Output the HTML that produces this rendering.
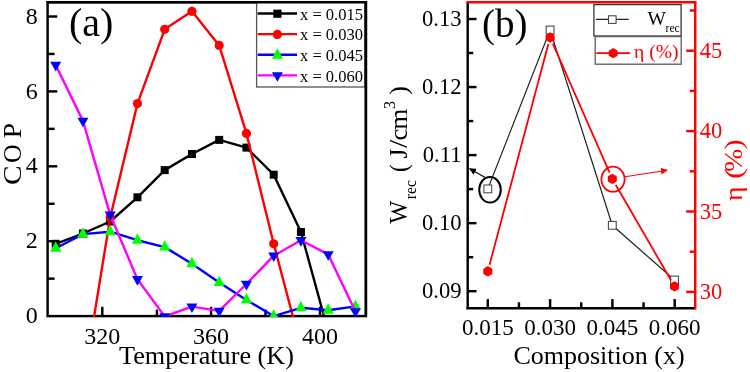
<!DOCTYPE html>
<html><head><meta charset="utf-8"><style>
html,body{margin:0;padding:0;background:#fff;}
svg{display:block;will-change:transform;font-family:"Liberation Serif", serif;}
</style></head><body>
<svg width="750" height="372" viewBox="0 0 750 372">
<rect width="750" height="372" fill="#fff"/>
<defs><clipPath id="ca"><rect x="47.6" y="2.2" width="318.29999999999995" height="314.90000000000003"/></clipPath>
<clipPath id="cb"><rect x="467.7" y="2.2" width="227.50000000000006" height="306.1"/></clipPath>
<marker id="ah" viewBox="0 0 10 10" refX="9" refY="5" markerWidth="7" markerHeight="7" orient="auto-start-reverse" markerUnits="userSpaceOnUse"><path d="M0,0 L10,5 L0,10 z" fill="#000"/></marker>
<marker id="ahr" viewBox="0 0 10 10" refX="9" refY="5" markerWidth="7" markerHeight="7" orient="auto-start-reverse" markerUnits="userSpaceOnUse"><path d="M0,0 L10,5 L0,10 z" fill="#f00"/></marker>
</defs>
<rect x="47.6" y="2.2" width="318.29999999999995" height="313.90000000000003" fill="none" stroke="#000" stroke-width="2.45"/>
<line x1="47.6" y1="278.65" x2="54.6" y2="278.65" stroke="#000" stroke-width="2.45"/>
<line x1="47.6" y1="241.20" x2="57.3" y2="241.20" stroke="#000" stroke-width="2.45"/>
<text x="37.8" y="248.3" font-size="24" text-anchor="end">2</text>
<line x1="47.6" y1="203.75" x2="54.6" y2="203.75" stroke="#000" stroke-width="2.45"/>
<line x1="47.6" y1="166.30" x2="57.3" y2="166.30" stroke="#000" stroke-width="2.45"/>
<text x="37.8" y="173.4" font-size="24" text-anchor="end">4</text>
<line x1="47.6" y1="128.85" x2="54.6" y2="128.85" stroke="#000" stroke-width="2.45"/>
<line x1="47.6" y1="91.40" x2="57.3" y2="91.40" stroke="#000" stroke-width="2.45"/>
<text x="37.8" y="98.5" font-size="24" text-anchor="end">6</text>
<line x1="47.6" y1="53.95" x2="54.6" y2="53.95" stroke="#000" stroke-width="2.45"/>
<line x1="47.6" y1="16.50" x2="57.3" y2="16.50" stroke="#000" stroke-width="2.45"/>
<text x="37.8" y="23.6" font-size="24" text-anchor="end">8</text>
<text x="37.8" y="323.2" font-size="24" text-anchor="end">0</text>
<line x1="102.3" y1="316.1" x2="102.3" y2="306.8" stroke="#000" stroke-width="2.45"/>
<text x="102.3" y="343.6" font-size="24" text-anchor="middle">320</text>
<line x1="156.9" y1="316.1" x2="156.9" y2="309.6" stroke="#000" stroke-width="2.45"/>
<line x1="211.1" y1="316.1" x2="211.1" y2="306.8" stroke="#000" stroke-width="2.45"/>
<text x="211.1" y="343.6" font-size="24" text-anchor="middle">360</text>
<line x1="265.5" y1="316.1" x2="265.5" y2="309.6" stroke="#000" stroke-width="2.45"/>
<line x1="320.0" y1="316.1" x2="320.0" y2="306.8" stroke="#000" stroke-width="2.45"/>
<text x="320.0" y="343.6" font-size="24" text-anchor="middle">400</text>
<g clip-path="url(#ca)">
<polyline points="55.70,243.80 82.95,233.50 110.20,221.50 137.45,197.30 164.70,170.10 191.95,154.00 219.20,139.90 246.45,147.60 273.70,174.70 300.95,232.00 328.20,331.50 355.45,380.00" fill="none" stroke="#000" stroke-width="2.4" stroke-linejoin="round"/>
<rect x="51.70" y="239.80" width="8" height="8" fill="#000"/>
<rect x="78.95" y="229.50" width="8" height="8" fill="#000"/>
<rect x="106.20" y="217.50" width="8" height="8" fill="#000"/>
<rect x="133.45" y="193.30" width="8" height="8" fill="#000"/>
<rect x="160.70" y="166.10" width="8" height="8" fill="#000"/>
<rect x="187.95" y="150.00" width="8" height="8" fill="#000"/>
<rect x="215.20" y="135.90" width="8" height="8" fill="#000"/>
<rect x="242.45" y="143.60" width="8" height="8" fill="#000"/>
<rect x="269.70" y="170.70" width="8" height="8" fill="#000"/>
<rect x="296.95" y="228.00" width="8" height="8" fill="#000"/>
<rect x="324.20" y="327.50" width="8" height="8" fill="#000"/>
<rect x="351.45" y="376.00" width="8" height="8" fill="#000"/>
<polyline points="55.70,460.00 82.95,385.00 110.20,217.50 137.45,103.60 164.70,29.30 191.95,11.30 219.20,45.40 246.45,133.40 273.70,243.80 300.95,347.00 328.20,420.00 355.45,420.00" fill="none" stroke="#f00" stroke-width="2.4" stroke-linejoin="round"/>
<circle cx="55.70" cy="460.00" r="4.6" fill="#f00"/>
<circle cx="82.95" cy="385.00" r="4.6" fill="#f00"/>
<circle cx="110.20" cy="217.50" r="4.6" fill="#f00"/>
<circle cx="137.45" cy="103.60" r="4.6" fill="#f00"/>
<circle cx="164.70" cy="29.30" r="4.6" fill="#f00"/>
<circle cx="191.95" cy="11.30" r="4.6" fill="#f00"/>
<circle cx="219.20" cy="45.40" r="4.6" fill="#f00"/>
<circle cx="246.45" cy="133.40" r="4.6" fill="#f00"/>
<circle cx="273.70" cy="243.80" r="4.6" fill="#f00"/>
<circle cx="300.95" cy="347.00" r="4.6" fill="#f00"/>
<circle cx="328.20" cy="420.00" r="4.6" fill="#f00"/>
<circle cx="355.45" cy="420.00" r="4.6" fill="#f00"/>
<polyline points="55.70,248.22 82.95,234.12 110.20,231.72 137.45,240.22 164.70,247.12 191.95,263.72 219.20,282.52 246.45,299.92 273.70,316.12 300.95,307.82 328.20,310.22 355.45,306.42" fill="none" stroke="#00f" stroke-width="2.4" stroke-linejoin="round"/>
<polygon points="50.10,251.65 61.30,251.65 55.70,241.35" fill="#0f0"/>
<polygon points="77.35,237.55 88.55,237.55 82.95,227.25" fill="#0f0"/>
<polygon points="104.60,235.15 115.80,235.15 110.20,224.85" fill="#0f0"/>
<polygon points="131.85,243.65 143.05,243.65 137.45,233.35" fill="#0f0"/>
<polygon points="159.10,250.55 170.30,250.55 164.70,240.25" fill="#0f0"/>
<polygon points="186.35,267.15 197.55,267.15 191.95,256.85" fill="#0f0"/>
<polygon points="213.60,285.95 224.80,285.95 219.20,275.65" fill="#0f0"/>
<polygon points="240.85,303.35 252.05,303.35 246.45,293.05" fill="#0f0"/>
<polygon points="268.10,319.55 279.30,319.55 273.70,309.25" fill="#0f0"/>
<polygon points="295.35,311.25 306.55,311.25 300.95,300.95" fill="#0f0"/>
<polygon points="322.60,313.65 333.80,313.65 328.20,303.35" fill="#0f0"/>
<polygon points="349.85,309.85 361.05,309.85 355.45,299.55" fill="#0f0"/>
<polyline points="55.70,65.00 82.95,120.90 110.20,214.80 137.45,279.30 164.70,316.40 191.95,306.60 219.20,310.90 246.45,284.00 273.70,255.70 300.95,240.30 328.20,254.40 355.45,311.40" fill="none" stroke="#f0f" stroke-width="2.4" stroke-linejoin="round"/>
<polygon points="50.20,61.80 61.20,61.80 55.70,71.40" fill="#00f"/>
<polygon points="77.45,117.70 88.45,117.70 82.95,127.30" fill="#00f"/>
<polygon points="104.70,211.60 115.70,211.60 110.20,221.20" fill="#00f"/>
<polygon points="131.95,276.10 142.95,276.10 137.45,285.70" fill="#00f"/>
<polygon points="159.20,313.20 170.20,313.20 164.70,322.80" fill="#00f"/>
<polygon points="186.45,303.40 197.45,303.40 191.95,313.00" fill="#00f"/>
<polygon points="213.70,307.70 224.70,307.70 219.20,317.30" fill="#00f"/>
<polygon points="240.95,280.80 251.95,280.80 246.45,290.40" fill="#00f"/>
<polygon points="268.20,252.50 279.20,252.50 273.70,262.10" fill="#00f"/>
<polygon points="295.45,237.10 306.45,237.10 300.95,246.70" fill="#00f"/>
<polygon points="322.70,251.20 333.70,251.20 328.20,260.80" fill="#00f"/>
<polygon points="349.95,308.20 360.95,308.20 355.45,317.80" fill="#00f"/>
</g>
<rect x="256.6" y="2.2" width="107.99999999999994" height="84.8" fill="#fff" stroke="#555" stroke-width="1.3"/>
<line x1="257.7" y1="13.5" x2="297.1" y2="13.5" stroke="#000" stroke-width="2.4"/>
<rect x="273.30" y="9.60" width="8.2" height="8.2" fill="#000"/>
<text x="300.0" y="19.6" font-size="16.5">x = 0.015</text>
<line x1="257.7" y1="34.1" x2="297.1" y2="34.1" stroke="#f00" stroke-width="2.4"/>
<circle cx="277.40" cy="34.40" r="4.6" fill="#f00"/>
<text x="300.0" y="40.2" font-size="16.5">x = 0.030</text>
<line x1="257.7" y1="54.7" x2="297.1" y2="54.7" stroke="#00f" stroke-width="2.4"/>
<polygon points="271.80,58.65 283.00,58.65 277.40,48.35" fill="#0f0"/>
<text x="300.0" y="60.8" font-size="16.5">x = 0.045</text>
<line x1="257.7" y1="75.4" x2="297.1" y2="75.4" stroke="#f0f" stroke-width="2.4"/>
<polygon points="271.90,72.20 282.90,72.20 277.40,81.80" fill="#00f"/>
<text x="300.0" y="81.5" font-size="16.5">x = 0.060</text>
<line x1="46.4" y1="2.2" x2="367.09999999999997" y2="2.2" stroke="#000" stroke-width="2.45"/>
<line x1="365.9" y1="2.2" x2="365.9" y2="316.1" stroke="#000" stroke-width="2.45"/>
<text x="206.5" y="364" font-size="26.2" text-anchor="middle">Temperature (K)</text>
<text transform="translate(20.5,184.93) rotate(-90) scale(1.127,1)" font-size="26" fill="#000">C</text>
<text transform="translate(20.5,162.99) rotate(-90) scale(0.994,1)" font-size="26" fill="#000">O</text>
<text transform="translate(20.5,138.16) rotate(-90) scale(1.062,1)" font-size="26" fill="#000">P</text>
<text x="69" y="36.3" font-size="40">(a)</text>
<g clip-path="url(#cb)">
<polyline points="487.80,188.90 550.10,30.00 612.30,225.30 674.50,280.00" fill="none" stroke="#222" stroke-width="1.2"/>
<rect x="483.90" y="185.00" width="7.8" height="7.8" fill="#fff" stroke="#444" stroke-width="1.05"/>
<rect x="546.20" y="26.10" width="7.8" height="7.8" fill="#fff" stroke="#444" stroke-width="1.05"/>
<rect x="608.40" y="221.40" width="7.8" height="7.8" fill="#fff" stroke="#444" stroke-width="1.05"/>
<rect x="670.60" y="276.10" width="7.8" height="7.8" fill="#fff" stroke="#444" stroke-width="1.05"/>
<line x1="489.55" y1="264.73" x2="548.35" y2="44.07" stroke="#f00" stroke-width="1.8"/>
<line x1="552.84" y1="43.72" x2="609.56" y2="172.68" stroke="#f00" stroke-width="1.8"/>
<line x1="615.71" y1="184.79" x2="671.09" y2="280.51" stroke="#f00" stroke-width="1.8"/>
<polygon points="487.80,266.10 492.30,268.70 492.30,273.90 487.80,276.50 483.30,273.90 483.30,268.70" fill="#f00"/>
<polygon points="550.10,32.30 554.60,34.90 554.60,40.10 550.10,42.70 545.60,40.10 545.60,34.90" fill="#f00"/>
<polygon points="612.30,173.70 616.80,176.30 616.80,181.50 612.30,184.10 607.80,181.50 607.80,176.30" fill="#f00"/>
<polygon points="674.50,281.20 679.00,283.80 679.00,289.00 674.50,291.60 670.00,289.00 670.00,283.80" fill="#f00"/>
</g>
<ellipse cx="490" cy="189.8" rx="10.8" ry="12.8" fill="none" stroke="#000" stroke-width="2"/>
<line x1="485.2" y1="177.5" x2="469.7" y2="168.7" stroke="#000" stroke-width="1.05" marker-end="url(#ah)"/>
<ellipse cx="613" cy="179.2" rx="11.6" ry="12.5" fill="none" stroke="#f00" stroke-width="1.8"/>
<line x1="625" y1="176.7" x2="667.2" y2="170.2" stroke="#f00" stroke-width="1.05" marker-end="url(#ahr)"/>
<rect x="593.9" y="4.6" width="87.2" height="31.4" fill="#fff" stroke="#333" stroke-width="1.3"/>
<line x1="595.9" y1="19.4" x2="628.7" y2="19.4" stroke="#222" stroke-width="1.2"/>
<rect x="608.5" y="15.8" width="7.6" height="7.6" fill="#fff" stroke="#444" stroke-width="1.05"/>
<text x="647.5" y="24.7" font-size="19.5">W</text>
<text x="665.6" y="31.8" font-size="11.6">rec</text>
<rect x="595.2" y="36.6" width="86" height="27.6" fill="#fff" stroke="#666" stroke-width="1.4"/>
<line x1="596.3" y1="53.1" x2="630.2" y2="53.1" stroke="#f00" stroke-width="1.8"/>
<polygon points="613.20,48.10 617.62,50.65 617.62,55.75 613.20,58.30 608.78,55.75 608.78,50.65" fill="#f00"/>
<text x="634.1" y="58.2" font-size="19.6" fill="#f00">η (%)</text>
<line x1="467.7" y1="2.2" x2="467.7" y2="308.3" stroke="#000" stroke-width="2.45"/>
<line x1="466.4" y1="308.3" x2="695.2" y2="308.3" stroke="#000" stroke-width="2.45"/>
<line x1="466.4" y1="2.2" x2="696.5" y2="2.2" stroke="#f00" stroke-width="2.45"/>
<line x1="695.2" y1="2.2" x2="695.2" y2="309.6" stroke="#f00" stroke-width="2.45"/>
<line x1="467.7" y1="291.20" x2="476.5" y2="291.20" stroke="#000" stroke-width="2.45"/>
<text x="461.5" y="298.3" font-size="22.6" text-anchor="end">0.09</text>
<line x1="467.7" y1="257.18" x2="473.2" y2="257.18" stroke="#000" stroke-width="2.45"/>
<line x1="467.7" y1="223.15" x2="476.5" y2="223.15" stroke="#000" stroke-width="2.45"/>
<text x="461.5" y="230.3" font-size="22.6" text-anchor="end">0.10</text>
<line x1="467.7" y1="189.13" x2="473.2" y2="189.13" stroke="#000" stroke-width="2.45"/>
<line x1="467.7" y1="155.10" x2="476.5" y2="155.10" stroke="#000" stroke-width="2.45"/>
<text x="461.5" y="162.2" font-size="22.6" text-anchor="end">0.11</text>
<line x1="467.7" y1="121.08" x2="473.2" y2="121.08" stroke="#000" stroke-width="2.45"/>
<line x1="467.7" y1="87.05" x2="476.5" y2="87.05" stroke="#000" stroke-width="2.45"/>
<text x="461.5" y="94.2" font-size="22.6" text-anchor="end">0.12</text>
<line x1="467.7" y1="53.03" x2="473.2" y2="53.03" stroke="#000" stroke-width="2.45"/>
<line x1="467.7" y1="19.00" x2="476.5" y2="19.00" stroke="#000" stroke-width="2.45"/>
<text x="461.5" y="26.1" font-size="22.6" text-anchor="end">0.13</text>
<line x1="695.2" y1="291.90" x2="686.2" y2="291.90" stroke="#f00" stroke-width="2.45"/>
<text x="699.8" y="299.0" font-size="22.5" fill="#f00">30</text>
<line x1="695.2" y1="251.70" x2="689.7" y2="251.70" stroke="#f00" stroke-width="2.45"/>
<line x1="695.2" y1="211.50" x2="686.2" y2="211.50" stroke="#f00" stroke-width="2.45"/>
<text x="699.8" y="218.6" font-size="22.5" fill="#f00">35</text>
<line x1="695.2" y1="171.30" x2="689.7" y2="171.30" stroke="#f00" stroke-width="2.45"/>
<line x1="695.2" y1="131.10" x2="686.2" y2="131.10" stroke="#f00" stroke-width="2.45"/>
<text x="699.8" y="138.2" font-size="22.5" fill="#f00">40</text>
<line x1="695.2" y1="90.90" x2="689.7" y2="90.90" stroke="#f00" stroke-width="2.45"/>
<line x1="695.2" y1="50.70" x2="686.2" y2="50.70" stroke="#f00" stroke-width="2.45"/>
<text x="699.8" y="57.8" font-size="22.5" fill="#f00">45</text>
<line x1="695.2" y1="10.50" x2="689.7" y2="10.50" stroke="#f00" stroke-width="2.45"/>
<line x1="487.80" y1="308.3" x2="487.80" y2="299.1" stroke="#000" stroke-width="2.45"/>
<text x="487.80" y="335.4" font-size="23" text-anchor="middle">0.015</text>
<line x1="518.95" y1="308.3" x2="518.95" y2="302.3" stroke="#000" stroke-width="2.45"/>
<line x1="550.10" y1="308.3" x2="550.10" y2="299.1" stroke="#000" stroke-width="2.45"/>
<text x="550.10" y="335.4" font-size="23" text-anchor="middle">0.030</text>
<line x1="581.25" y1="308.3" x2="581.25" y2="302.3" stroke="#000" stroke-width="2.45"/>
<line x1="612.40" y1="308.3" x2="612.40" y2="299.1" stroke="#000" stroke-width="2.45"/>
<text x="612.40" y="335.4" font-size="23" text-anchor="middle">0.045</text>
<line x1="643.55" y1="308.3" x2="643.55" y2="302.3" stroke="#000" stroke-width="2.45"/>
<line x1="674.70" y1="308.3" x2="674.70" y2="299.1" stroke="#000" stroke-width="2.45"/>
<text x="674.70" y="335.4" font-size="23" text-anchor="middle">0.060</text>
<text x="599" y="364" font-size="26" text-anchor="middle">Composition (x)</text>
<text x="482" y="36.5" font-size="39">(b)</text>
<text transform="translate(406.9,223.70) rotate(-90) scale(0.940,1)" font-size="26" fill="#000">W</text>
<text transform="translate(416.4,199.17) rotate(-90) scale(0.972,1)" font-size="16" fill="#000">rec</text>
<text transform="translate(407,171.90) rotate(-90) scale(0.900,1)" font-size="26" fill="#000">(</text>
<text transform="translate(407,158.58) rotate(-90) scale(0.978,1)" font-size="26" fill="#000">J</text>
<text transform="translate(407,148.10) rotate(-90) scale(1.143,1)" font-size="26" fill="#000">/</text>
<text transform="translate(407,140.62) rotate(-90) scale(1.020,1)" font-size="26" fill="#000">c</text>
<text transform="translate(407,129.85) rotate(-90) scale(1.047,1)" font-size="26" fill="#000">m</text>
<text transform="translate(394.6,109.00) rotate(-90) scale(1.000,1)" font-size="16" fill="#000">3</text>
<text transform="translate(407,95.04) rotate(-90) scale(1.043,1)" font-size="26" fill="#000">)</text>
<text transform="translate(741.8,149.62) rotate(-90) scale(1.217,1)" font-size="25" fill="#f00">)</text>
<text transform="translate(741.8,171.81) rotate(-90) scale(1.105,1)" font-size="25" fill="#f00">%</text>
<text transform="translate(741.8,179.02) rotate(-90) scale(1.317,1)" font-size="25" fill="#f00">(</text>
<text transform="translate(741.8,200.90) rotate(-90) scale(1.100,1)" font-size="25" fill="#f00">η</text>
</svg>
</body></html>
